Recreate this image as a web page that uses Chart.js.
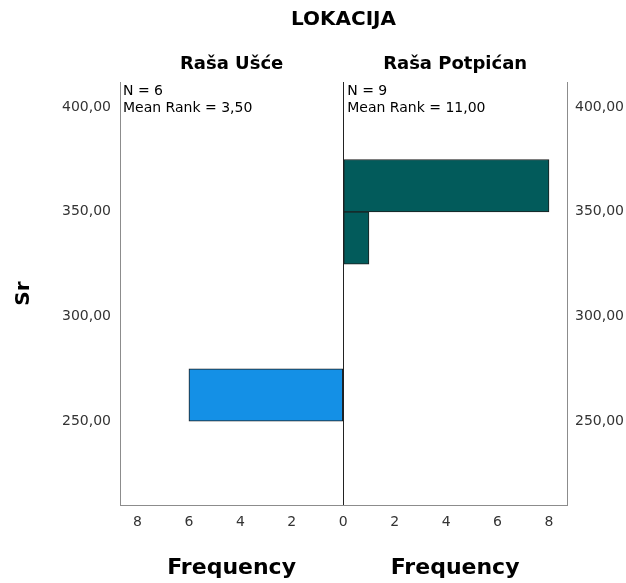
<!DOCTYPE html>
<html>
<head>
<meta charset="utf-8">
<script src="https://cdn.jsdelivr.net/npm/chart.js@4.4.0/dist/chart.umd.min.js"></script>
<style>
  html, body { margin: 0; padding: 0; background: #fff; }
  #wrap { width: 626px; height: 583px; }
</style>
</head>
<body>
<div id="wrap"><canvas id="pyramid" width="626" height="583"></canvas></div>
<script>
// histogram bins of Sr (width 25), bin centre values
var binMids = [212.5, 237.5, 262.5, 287.5, 312.5, 337.5, 362.5, 387.5, 412.5];
// frequencies per location
var rasaUsce = [0, 0, 6, 0, 0, 0, 0, 0, 0];
var rasaPotpican = [0, 0, 0, 0, 0, 1, 8, 0, 0];

var groups = ['Raša Ušće', 'Raša Potpićan'];
var groupN = [6, 9];
var meanRanks = [3.50, 11.00];

var yTicks = [250, 300, 350, 400];
var xTicks = [-8, -6, -4, -2, 0, 2, 4, 6, 8];

function fmt(v) {
	return v.toFixed(2).replace('.', ',');
}

// only the bins that have cases get a bar
function bars(freq, sign) {
	var out = [];
	for (var i = 0; i < binMids.length; i++) {
		if (freq[i] > 0) out.push({ x: sign * freq[i], y: binMids[i] });
	}
	return out;
}

var smallFont = { family: 'DejaVu Sans', size: 14 };

// texts that SPSS puts around the two panels
var panelText = {
	id: 'panelText',
	afterDraw: function(chart) {
		var ctx = chart.ctx;
		var area = chart.chartArea;
		var zero = chart.scales.x.getPixelForValue(0);
		var mids = [(area.left + zero) / 2, (zero + area.right) / 2];
		var starts = [area.left + 3, zero + 4];
		ctx.save();
		ctx.fillStyle = '#000';
		ctx.textAlign = 'center';
		ctx.textBaseline = 'middle';
		ctx.font = 'bold 20px "DejaVu Sans"';
		ctx.fillText('LOKACIJA', (area.left + area.right) / 2, 20);
		ctx.font = 'bold 18px "DejaVu Sans"';
		for (var i = 0; i < groups.length; i++) {
			ctx.fillText(groups[i], mids[i], 64);
		}
		ctx.font = 'bold 22px "DejaVu Sans"';
		for (var i = 0; i < groups.length; i++) {
			ctx.fillText('Frequency', mids[i], 568);
		}
		ctx.textAlign = 'left';
		ctx.font = '14px "DejaVu Sans"';
		for (var i = 0; i < groups.length; i++) {
			ctx.fillText('N = ' + groupN[i], starts[i], 91);
			ctx.fillText('Mean Rank = ' + fmt(meanRanks[i]), starts[i], 108);
		}
		ctx.restore();
	}
};

var ctx = document.getElementById('pyramid').getContext('2d');
var chart = new Chart(ctx, {
	type: 'bar',
	data: {
		datasets: [{
			label: groups[0],
			data: bars(rasaUsce, -1),
			backgroundColor: '#1490e6',
			borderColor: '#1c1c1c',
			borderWidth: 1,
			borderSkipped: false,
			grouped: false,
			barPercentage: 1,
			categoryPercentage: 1
		}, {
			label: groups[1],
			data: bars(rasaPotpican, 1),
			backgroundColor: '#025b5b',
			borderColor: '#1c1c1c',
			borderWidth: 1,
			borderSkipped: false,
			grouped: false,
			barPercentage: 1,
			categoryPercentage: 1
		}]
	},
	options: {
		indexAxis: 'y',
		responsive: false,
		animation: false,
		layout: { padding: { top: 82, left: 0, right: 0, bottom: 0 } },
		plugins: {
			legend: { display: false },
			tooltip: { enabled: false }
		},
		scales: {
			x: {
				type: 'linear',
				min: -8.68,
				max: 8.7,
				afterBuildTicks: function(s) { s.ticks = xTicks.map(function(v) { return { value: v }; }); },
				afterFit: function(s) { s.height = 78; },
				ticks: {
					callback: function(v) { return Math.abs(v); },
					font: smallFont,
					color: '#333',
					padding: 9,
					maxRotation: 0,
					autoSkip: false
				},
				grid: {
					drawTicks: false,
					color: function(c) { return c.tick && c.tick.value === 0 ? '#222' : 'rgba(0,0,0,0)'; }
				},
				border: { color: '#8c8c8c' }
			},
			y: {
				type: 'linear',
				position: 'left',
				offset: false,
				min: 210,
				max: 412,
				afterBuildTicks: function(s) { s.ticks = yTicks.map(function(v) { return { value: v }; }); },
				afterFit: function(s) { s.width = 120; },
				ticks: {
					callback: function(v) { return fmt(v); },
					font: smallFont,
					color: '#333',
					padding: 9
				},
				grid: { display: false, drawTicks: false, offset: false },
				border: { color: '#8c8c8c' },
				title: {
					display: true,
					text: 'Sr',
					font: { family: 'DejaVu Sans', size: 20, weight: 'bold' },
					color: '#000',
					padding: { top: 12 }
				}
			},
			y2: {
				type: 'linear',
				position: 'right',
				offset: false,
				min: 210,
				max: 412,
				afterBuildTicks: function(s) { s.ticks = yTicks.map(function(v) { return { value: v }; }); },
				afterFit: function(s) { s.width = 59; },
				ticks: {
					callback: function(v) { return fmt(v); },
					font: smallFont,
					color: '#333',
					padding: 8
				},
				grid: { display: false, drawTicks: false, offset: false },
				border: { color: '#8c8c8c' }
			}
		}
	},
	plugins: [panelText]
});
</script>
</body>
</html>
